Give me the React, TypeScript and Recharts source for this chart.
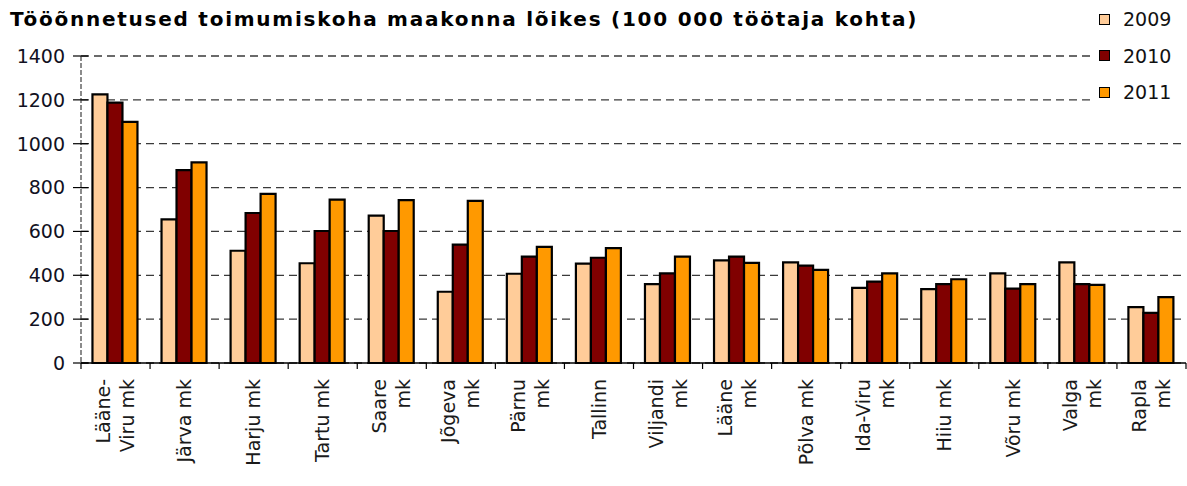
import React from "react";
import { BarChart, Bar, XAxis, YAxis, CartesianGrid } from "recharts";

const categories = [
  "Lääne-\nViru mk", "Järva mk", "Harju mk", "Tartu mk", "Saare\nmk", "Jõgeva\nmk", "Pärnu\nmk", "Tallinn",
  "Viljandi\nmk", "Lääne\nmk", "Põlva mk", "Ida-Viru\nmk", "Hiiu mk", "Võru mk", "Valga\nmk", "Rapla\nmk",
];
const values2009 = [1225, 655, 512, 455, 672, 325, 407, 453, 360, 468, 459, 343, 337, 409, 459, 255];
const values2010 = [1187, 880, 684, 602, 602, 540, 485, 480, 409, 485, 444, 371, 360, 339, 360, 229];
const values2011 = [1100, 915, 771, 745, 743, 739, 530, 524, 485, 457, 425, 409, 382, 360, 356, 300];
const yTicks = [0, 200, 400, 600, 800, 1000, 1200, 1400];
const seriesNames = ["2009", "2010", "2011"];
const seriesColors = ["#FFCC99", "#800000", "#FF9900"];

const data = categories.map((c, i) => ({
  name: c,
  y2009: values2009[i],
  y2010: values2010[i],
  y2011: values2011[i],
}));

const FONT = "'DejaVu Sans', Verdana, sans-serif";
const W = 1187;
const H = 486;
const M = { top: 56, right: 1, left: 0, bottom: 0 };
const YW = 81;
const plotW = W - M.left - M.right - YW;
const half = plotW / categories.length / 2;

const XTick = (props: any) => {
  const { x, payload, index } = props;
  const lines: string[] = String(payload.value).split("\n");
  const sp = 24;
  const offs = lines.length === 1 ? [0] : [-sp / 2, sp / 2];
  return (
    <g>
      <line x1={x + half} x2={x + half} y1={363} y2={369} stroke="#000" strokeWidth={1.2} />
      {index === 0 && <line x1={x - half} x2={x - half} y1={363} y2={369} stroke="#000" strokeWidth={1.2} />}
      {lines.map((l, i) => {
        const tx = x + offs[i];
        const ty = 379;
        return (
          <text
            key={i}
            x={tx}
            y={ty}
            dy="0.35em"
            transform={`rotate(-90, ${tx}, ${ty})`}
            textAnchor="end"
            fontFamily={FONT}
            fontSize={19}
            fill="#1a1a1a"
          >
            {l}
          </text>
        );
      })}
    </g>
  );
};

const YTick = (props: any) => {
  const { y, payload } = props;
  return (
    <g>
      <line x1={73} x2={88} y1={y} y2={y} stroke="#000" strokeWidth={1.2} />
      <text x={65} y={y} dy="0.36em" textAnchor="end" fontFamily={FONT} fontSize={19} fill="#111122">
        {payload.value}
      </text>
    </g>
  );
};

export default function App() {
  return (
    <div style={{ position: "absolute", left: 0, top: 0, width: W, height: H, background: "#fff" }}>
      <BarChart
        width={W}
        height={H}
        data={data}
        margin={M}
        barCategoryGap="16.6%"
        barGap={0}
      >
        <CartesianGrid vertical={false} stroke="#3a3a3a" strokeDasharray="8 5" strokeWidth={1.3} />
        <XAxis
          dataKey="name"
          interval={0}
          height={123}
          tickLine={false}
          axisLine={{ stroke: "#000", strokeWidth: 1.3 }}
          tick={<XTick />}
        />
        <YAxis
          width={YW}
          domain={[0, 1400]}
          ticks={yTicks}
          interval={0}
          tickLine={false}
          axisLine={{ stroke: "#666", strokeWidth: 1.5, strokeDasharray: "5 2" }}
          tick={<YTick />}
        />
        <YAxis
          yAxisId="r"
          orientation="right"
          width={0}
          domain={[0, 1400]}
          tick={false}
          tickLine={false}
          axisLine={{ stroke: "#888", strokeWidth: 1.3, strokeDasharray: "6 4" }}
        />
        <Bar dataKey="y2009" fill={seriesColors[0]} stroke="#000" strokeWidth={2.2} isAnimationActive={false} />
        <Bar dataKey="y2010" fill={seriesColors[1]} stroke="#000" strokeWidth={2.2} isAnimationActive={false} />
        <Bar dataKey="y2011" fill={seriesColors[2]} stroke="#000" strokeWidth={2.2} isAnimationActive={false} />
      </BarChart>
      <div
        style={{
          position: "absolute",
          left: 10,
          top: 6,
          fontFamily: FONT,
          fontWeight: "bold",
          fontSize: 20,
          letterSpacing: 1.75,
          color: "#000",
          whiteSpace: "nowrap",
          lineHeight: "26px",
        }}
      >
        Tööõnnetused toimumiskoha maakonna lõikes (100 000 töötaja kohta)
      </div>
      <div
        style={{
          position: "absolute",
          left: 1090,
          top: 2,
          width: 97,
          height: 112,
          background: "#fff",
          fontFamily: FONT,
          fontSize: 19,
          color: "#111",
        }}
      >
        {seriesNames.map((n, i) => (
          <div
            key={n}
            style={{ position: "absolute", left: 0, top: 5 + i * 36.5, height: 24, display: "flex", alignItems: "center" }}
          >
            <div
              style={{
                width: 9,
                height: 9,
                marginLeft: 9,
                marginRight: 13,
                background: seriesColors[i],
                border: "1.5px solid #000",
              }}
            />
            <span style={{ lineHeight: "24px" }}>{n}</span>
          </div>
        ))}
      </div>
    </div>
  );
}
